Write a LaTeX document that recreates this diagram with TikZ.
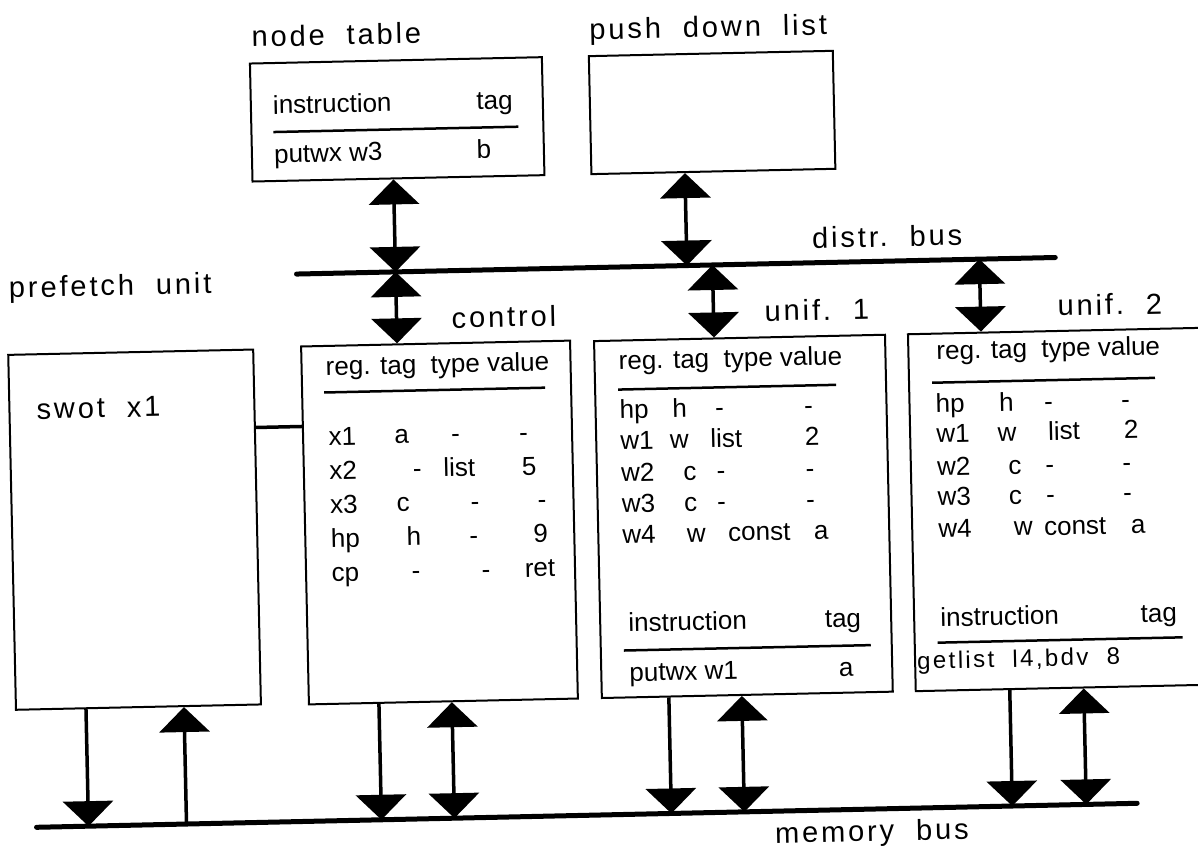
\documentclass[tikz,border=0pt]{standalone}
\usepackage{fontspec}
\setmainfont{Liberation Sans}
\newfontfamily\spacedfont[LetterSpace=10]{Liberation Sans}
\usetikzlibrary{arrows.meta}

\tikzset{
    box/.style={draw, line width=2pt, anchor=north west, inner sep=0pt},
    title/.style={font=\spacedfont\fontsize{29}{34}\selectfont, anchor=base west, inner sep=0pt},
    cell/.style={font=\fontsize{26}{31}\selectfont, anchor=base, inner sep=0pt},
    rule/.style={line width=2.5pt},
    bus/.style={line width=5pt, line cap=round},
    link/.style={line width=3.5pt}
}

\begin{document}
\begin{tikzpicture}[x=1pt, y=-1pt, >={Triangle[width=50pt,length=25pt]}]
    \useasboundingbox (0,0) rectangle (1198,860);
    \clip (0,0) rectangle (1198,860);

    % The scanned page sits slightly tilted
    \begin{scope}[rotate around={1.25:(599,430)}, transform shape]

    % Boxes
    \node[box, minimum width=292pt, minimum height=118pt] (ntab) at (257,55) {};
    \node[box, minimum width=244pt, minimum height=118pt] (pdl) at (596,55) {};
    \node[box, minimum width=245pt, minimum height=355pt] (pref) at (9,341) {};
    \node[box, minimum width=269pt, minimum height=358pt] (ctrl) at (302,339) {};
    \node[box, minimum width=291pt, minimum height=357pt] (uni1) at (595,340) {};
    \node[box, minimum width=330pt, minimum height=357pt] (uni2) at (909,340) {};

    % Labels
    \node[title] (lbl-ntab) at (260,39.5) {node\ \ table};
    \node[title] (lbl-pdl) at (598,39.5) {push\ \ down\ \ list};
    \node[title] (lbl-dbus) at (816,253) {distr.\ \ bus};
    \node[title] (lbl-pref) at (12,285) {prefetch\ \ unit};
    \node[title] (lbl-ctrl) at (454,325) {control};
    \node[title] (lbl-uni1) at (767,325) {unif.\ \ 1};
    \node[title] (lbl-uni2) at (1060,326) {unif.\ \ 2};
    \node[title] (lbl-mbus) at (766,847) {memory\ \ bus};
    \node[title] (swot) at (37,407) {swot\ \ x1};

    % Node table contents
    \node[cell, anchor=base west] (nt-ins) at (280,107) {instruction};
    \node[cell, anchor=base east] (nt-tag) at (520,107) {tag};
    \draw[rule] (280,125) -- (525,125);
    \node[cell, anchor=base west] (nt-put) at (280,156) {putwx w3};
    \node[cell] (nt-b) at (490,156) {b};

    % Control registers
    \node[cell, anchor=base west] (ctrl-head) at (327,369.5) {reg. tag\ \ type value};
    \draw[rule] (325,386.5) -- (546,386.5);
    \foreach \yy/\rg/\tg/\tgx/\tp/\tpx/\vl/\vlx in {
        439.5/x1/a/401.5/-/455.5/-/523.5,
        473.5/x2/-/416.5/list/458.5/5/528.5,
        507.5/x3/c/401.5/-/473.5/-/540.5,
        541.5/hp/h/411.5/-/471.5/9/538.5,
        575.5/cp/-/413/-/483/ret/537}
    {
        \node[cell, anchor=base west] (ctrl-\rg) at (328.5,\yy) {\rg};
        \node[cell] (ctrl-\rg-tag) at (\tgx,\yy) {\tg};
        \node[cell] (ctrl-\rg-type) at (\tpx,\yy) {\tp};
        \node[cell] (ctrl-\rg-val) at (\vlx,\yy) {\vl};
    }

    % Unification unit 1
    \node[cell, anchor=base west] (u1-head) at (620,370) {reg. tag\ \ type value};
    \draw[rule] (619,390) -- (837,390);
    \foreach \yy/\rg/\tg/\tgx/\tp/\tpx/\vl/\vlx in {
        419/hp/h/680/-/720/-/809,
        450/w1/w/679/list/726/2/812,
        482/w2/c/689/-/720/-/809,
        513/w3/c/689/-/720/-/809,
        544/w4/w/694/const/757/a/819}
    {
        \node[cell, anchor=base west] (u1-\rg) at (620,\yy) {\rg};
        \node[cell] (u1-\rg-tag) at (\tgx,\yy) {\tg};
        \node[cell] (u1-\rg-type) at (\tpx,\yy) {\tp};
        \node[cell] (u1-\rg-val) at (\vlx,\yy) {\vl};
    }
    \node[cell, anchor=base west] (u1-ins) at (624,632.5) {instruction};
    \node[cell, anchor=base east] (u1-tag) at (857,632.5) {tag};
    \draw[rule] (619,651) -- (866,651);
    \node[cell, anchor=base west] (u1-put) at (624,682) {putwx w1};
    \node[cell] (u1-a) at (841,682) {a};

    % Unification unit 2
    \node[cell, anchor=base west] (u2-head) at (938,367) {reg. tag\ \ type value};
    \draw[rule] (933,390) -- (1156,390);
    \foreach \yy/\rg/\tg/\tgx/\tp/\tpx/\vl/\vlx in {
        420/hp/h/1007/-/1049/-/1126,
        450/w1/w/1007/list/1064/2/1131,
        483/w2/c/1014/-/1049/-/1126,
        513/w3/c/1014/-/1049/-/1126,
        545/w4/w/1021/const/1073/a/1136}
    {
        \node[cell, anchor=base west] (u2-\rg) at (936,\yy) {\rg};
        \node[cell] (u2-\rg-tag) at (\tgx,\yy) {\tg};
        \node[cell] (u2-\rg-type) at (\tpx,\yy) {\tp};
        \node[cell] (u2-\rg-val) at (\vlx,\yy) {\vl};
    }
    \node[cell, anchor=base west] (u2-ins) at (936,634) {instruction};
    \node[cell, anchor=base east] (u2-tag) at (1173,634) {tag};
    \draw[rule] (933,650) -- (1178,650);
    \node[title, font=\spacedfont\fontsize{24}{28}\selectfont] (u2-get) at (912,676) {getlist\ \ l4,bdv\ \ 8};

    % Buses
    \coordinate (dbus-l) at (300,267.5);
    \coordinate (dbus-r) at (1059,267.5);
    \coordinate (mbus-l) at (28,815);
    \coordinate (mbus-r) at (1129,815);
    \draw[bus] (dbus-l) -- (dbus-r);
    \draw[bus] (mbus-l) -- (mbus-r);

    % Prefetch unit to control
    \draw[link] (pref.east |- 0,420) -- (ctrl.west |- 0,420);

    % Distribution bus arrows
    \draw[link, <->] (399,0 |- ntab.south) -- (399,0 |- dbus-l);
    \draw[link, <->] (399,0 |- dbus-l) -- (399,0 |- ctrl.north);
    \draw[link, <->] (690.5,0 |- pdl.south) -- (690.5,0 |- dbus-l);
    \draw[link, <->] (716,0 |- dbus-l) -- (716,0 |- uni1.north);
    \draw[link, <->] (983,0 |- dbus-l) -- (983,0 |- uni2.north);

    % Memory bus arrows
    \draw[link, ->] (80,0 |- pref.south) -- (80,0 |- mbus-l);
    \draw[link, ->] (178,0 |- mbus-l) -- (178,0 |- pref.south);
    \draw[link, ->] (373,0 |- ctrl.south) -- (373,0 |- mbus-l);
    \draw[link, <->] (446,0 |- ctrl.south) -- (446,0 |- mbus-l);
    \draw[link, ->] (663,0 |- uni1.south) -- (663,0 |- mbus-l);
    \draw[link, <->] (736,0 |- uni1.south) -- (736,0 |- mbus-l);
    \draw[link, ->] (1004,0 |- uni2.south) -- (1004,0 |- mbus-l);
    \draw[link, <->] (1078,0 |- uni2.south) -- (1078,0 |- mbus-l);

    \end{scope}
\end{tikzpicture}
\end{document}
